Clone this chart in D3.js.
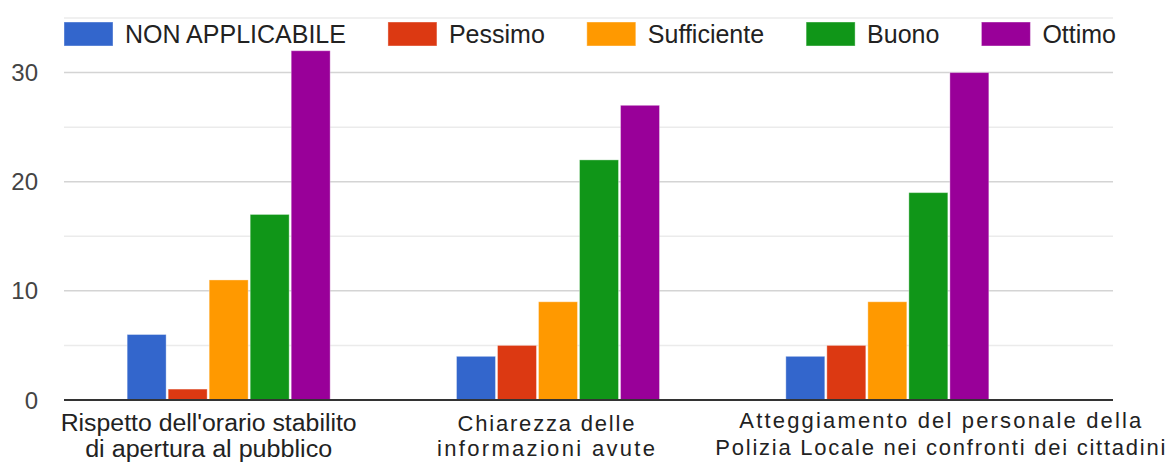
<!DOCTYPE html>
<html>
<head>
<meta charset="utf-8">
<script src="https://cdn.jsdelivr.net/npm/d3@7/dist/d3.min.js"></script>
<style>
  body { margin: 0; background: #fff; }
  svg { display: block; }
  text { font-family: "Liberation Sans", Arial, sans-serif; }
</style>
</head>
<body>
<div id="chart"></div>
<script>
// categorie (asse x) e righe delle etichette
const categories = [
    "Rispetto dell'orario stabilito di apertura al pubblico",
    "Chiarezza delle informazioni avute",
    "Atteggiamento del personale della Polizia Locale nei confronti dei cittadini"
];
const categoryLines = [
    ["Rispetto dell'orario stabilito", "di apertura al pubblico"],
    ["Chiarezza delle", "informazioni avute"],
    ["Atteggiamento del personale della", "Polizia Locale nei confronti dei cittadini"]
];

// serie
const seriesNames = ["NON APPLICABILE", "Pessimo", "Sufficiente", "Buono", "Ottimo"];
const nonApplicabile = [6, 4, 4];
const pessimo        = [1, 5, 5];
const sufficiente    = [11, 9, 9];
const buono          = [17, 22, 19];
const ottimo         = [32, 27, 30];
const seriesValues   = [nonApplicabile, pessimo, sufficiente, buono, ottimo];

const yTicks = [0, 10, 20, 30];
const yMinorTicks = [5, 15, 25, 35];

const colors = ["#3366cc", "#dc3912", "#ff9900", "#109618", "#990099"];

const width = 1171, height = 462;
const plot = { left: 64, right: 1113, top: 18, bottom: 400 };

const svg = d3.select("#chart").append("svg")
    .attr("width", width)
    .attr("height", height);

const y = d3.scaleLinear().domain([0, 35]).range([plot.bottom, plot.top]);

const x0 = d3.scaleBand().domain(categories).range([plot.left, 1052]);
const groupW = 203;
const x1 = d3.scaleBand()
    .domain(seriesNames)
    .range([(x0.bandwidth() - groupW) / 2, (x0.bandwidth() + groupW) / 2])
    .paddingInner(0.05);

// griglia
svg.append("g")
    .selectAll("line.minor")
    .data(yMinorTicks)
    .enter().append("line")
    .attr("x1", plot.left).attr("x2", plot.right)
    .attr("y1", d => y(d)).attr("y2", d => y(d))
    .attr("stroke", "#ebebeb").attr("stroke-width", 1.5);

svg.append("g")
    .selectAll("line.major")
    .data(yTicks.filter(d => d > 0))
    .enter().append("line")
    .attr("x1", plot.left).attr("x2", plot.right)
    .attr("y1", d => y(d)).attr("y2", d => y(d))
    .attr("stroke", "#d4d4d4").attr("stroke-width", 1.5);

// etichette asse y
svg.append("g")
    .selectAll("text")
    .data(yTicks)
    .enter().append("text")
    .attr("x", 38)
    .attr("y", d => y(d))
    .attr("dy", "0.36em")
    .attr("text-anchor", "end")
    .attr("font-size", 24)
    .attr("fill", "#444")
    .text(d => d);

// barre
const groups = svg.append("g")
    .selectAll("g")
    .data(categories)
    .enter().append("g")
    .attr("transform", d => `translate(${x0(d)},0)`);

groups.selectAll("rect")
    .data((d, i) => seriesNames.map((s, j) => ({ s, j, v: seriesValues[j][i] })))
    .enter().append("rect")
    .attr("x", d => x1(d.s))
    .attr("y", d => y(d.v))
    .attr("width", x1.bandwidth())
    .attr("height", d => y(0) - y(d.v))
    .attr("fill", d => colors[d.j])
    .attr("stroke", "#fff")
    .attr("stroke-opacity", 0.35)
    .attr("stroke-width", 1);

// linea dello zero
svg.append("line")
    .attr("x1", plot.left).attr("x2", plot.right)
    .attr("y1", y(0)).attr("y2", y(0))
    .attr("stroke", "#333").attr("stroke-width", 2);

// etichette asse x
const labelShift = [-20, -12, 53];
const labelBase  = [[431, 457], [431, 456], [428, 455]];
const labelFit   = [null, [177, 218], [402, 450]];

categories.forEach((c, i) => {
    const cx = x0(c) + x0.bandwidth() / 2 + labelShift[i];
    categoryLines[i].forEach((line, k) => {
        const t = svg.append("text")
            .attr("x", cx)
            .attr("y", labelBase[i][k])
            .attr("text-anchor", "middle")
            .attr("fill", "#222")
            .attr("font-size", labelFit[i] ? 22 : 23.5)
            .text(line);
        if (labelFit[i]) {
            t.attr("textLength", labelFit[i][k]).attr("lengthAdjust", "spacing");
        } else {
            t.attr("textLength", k === 0 ? 296 : 247).attr("lengthAdjust", "spacingAndGlyphs");
        }
    });
});

// legenda
const legend = svg.append("g");
let lx = 64;
seriesNames.forEach((s, j) => {
    legend.append("rect")
        .attr("x", lx).attr("y", 22)
        .attr("width", 49).attr("height", 24)
        .attr("fill", colors[j])
        .attr("stroke", "#fff").attr("stroke-opacity", 0.4);
    const t = legend.append("text")
        .attr("x", lx + 61).attr("y", 43)
        .attr("font-size", 25)
        .attr("fill", "#222")
        .text(s);
    lx += 61 + t.node().getComputedTextLength() + 42;
});
</script>
</body>
</html>
